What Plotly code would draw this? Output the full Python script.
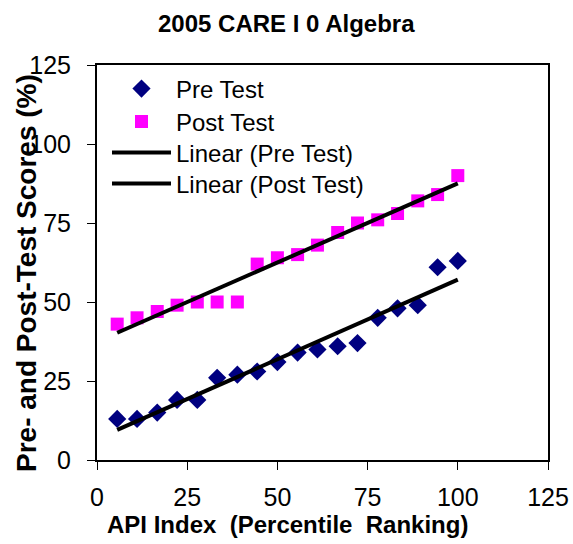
import numpy as np
import plotly.graph_objects as go

api_index = [5.6, 11.1, 16.7, 22.2, 27.8, 33.3, 38.9, 44.4, 50.0, 55.6, 61.1, 66.7, 72.2, 77.8, 83.3, 88.9, 94.4, 100.0]
pre_test = [13, 13, 15, 19, 19, 26, 27, 28, 31, 34, 35, 36, 37, 45, 48, 49, 61, 63]
post_test = [43, 45, 47, 49, 50, 50, 50, 62, 64, 65, 68, 72, 75, 76, 78, 82, 84, 90]
tick_vals = [0, 25, 50, 75, 100, 125]

FONT = "Arial, 'Liberation Sans', sans-serif"

# plot area in pixels
L, R, T, B = 97, 548, 65, 460
PW, PH = R - L, B - T

x = np.array(api_index)
pre_fit = np.polyfit(x, pre_test, 1)
post_fit = np.polyfit(x, post_test, 1)
xl = np.array([x.min(), x.max()])

fig = go.Figure()
fig.add_trace(go.Scatter(x=api_index, y=pre_test, mode="markers", name="Pre Test", legend="legend",
                         marker=dict(symbol="diamond", size=14, color="#000080")))
fig.add_trace(go.Scatter(x=api_index, y=post_test, mode="markers", name="Post Test", legend="legend2",
                         marker=dict(symbol="square", size=13, color="#FF00FF")))
fig.add_trace(go.Scatter(x=xl, y=np.polyval(pre_fit, xl), mode="lines", name="Linear (Pre Test)",
                         legend="legend3", line=dict(color="black", width=4)))
fig.add_trace(go.Scatter(x=xl, y=np.polyval(post_fit, xl), mode="lines", name="Linear (Post Test)",
                         legend="legend4", line=dict(color="black", width=4)))

axis_common = dict(range=[0, 125], tickvals=tick_vals, showgrid=False, zeroline=False,
                   showline=True, linecolor="black", linewidth=2, mirror=True,
                   ticks="outside", ticklen=8, tickwidth=1, tickcolor="black", automargin=False,
                   tickfont=dict(family=FONT, size=25, color="black"))


def leg(row_y):
    return dict(x=(107 - L) / PW, y=(B - row_y) / PH, xanchor="left", yanchor="middle",
                font=dict(family=FONT, size=24, color="black"),
                bgcolor="rgba(0,0,0,0)", borderwidth=0, itemwidth=59)


fig.update_layout(
    width=573, height=544,
    margin=dict(l=L, r=573 - R, t=T, b=544 - B),
    paper_bgcolor="white", plot_bgcolor="white",
    xaxis=dict(axis_common, ticklabelstandoff=6),
    yaxis=dict(axis_common, ticklabelstandoff=11),
    showlegend=True,
    legend=leg(89), legend2=leg(122), legend3=leg(153), legend4=leg(184),
    annotations=[
        dict(text="<b>2005 CARE I 0 Algebra</b>", xref="paper", yref="paper",
             x=(286 - L) / PW, y=(B - 24) / PH, xanchor="center", yanchor="middle",
             showarrow=False, font=dict(family=FONT, size=24, color="black")),
        dict(text="<b>API Index  (Percentile  Ranking)</b>", xref="paper", yref="paper",
             x=(287 - L) / PW, y=(B - 524) / PH, xanchor="center", yanchor="middle",
             showarrow=False, font=dict(family=FONT, size=24, color="black")),
        dict(text="<b>Pre- and Post-Test Scores (%)</b>", xref="paper", yref="paper",
             x=(26 - L) / PW, y=(B - 273) / PH, xanchor="center", yanchor="middle",
             showarrow=False, textangle=-90, font=dict(family=FONT, size=28, color="black")),
    ],
)

fig.write_html("out.html")
